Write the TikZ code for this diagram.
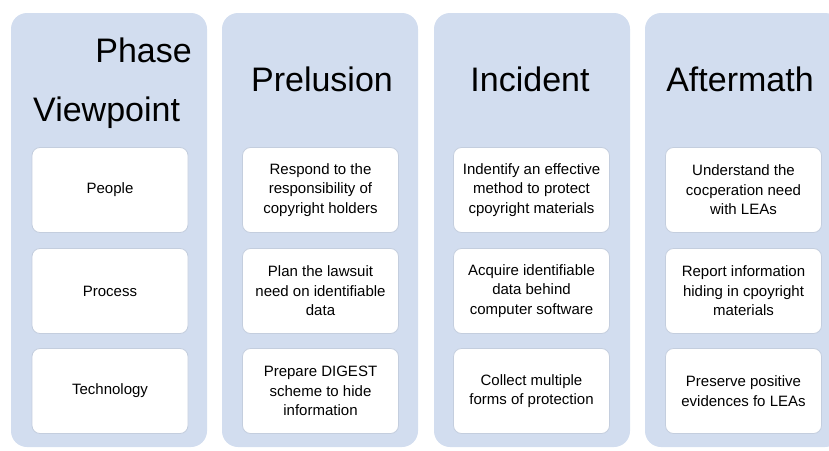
\documentclass[tikz,border=0pt]{standalone}
\usepackage{fontspec}
\setmainfont{Liberation Sans}
\usetikzlibrary{positioning}
\definecolor{lane}{RGB}{210,221,239}
\definecolor{cellline}{RGB}{196,206,222}
\tikzset{
	lanebox/.style={fill=lane, draw=none, rounded corners=16pt},
	cell/.style={draw=cellline, line width=0.8pt, fill=white, rounded corners=8pt, minimum width=156pt, minimum height=85pt, align=center, font=\fontsize{15}{19.5}\selectfont, inner sep=2pt},
	head/.style={font=\fontsize{34}{40}\selectfont, inner sep=0pt}
}

\begin{document}
\begin{tikzpicture}[x=1pt, y=-1pt]
		%%%%% START %%%%%
		
		\useasboundingbox (0, 0) rectangle (829, 450);
		\clip (0, 0) rectangle (829, 450);
		
		\draw[lanebox] (11, 13) rectangle (207, 447);
		\draw[lanebox] (222, 13) rectangle (418, 447);
		\draw[lanebox] (434, 13) rectangle (630, 447);
		\draw[lanebox] (645, 13) rectangle (841, 447);
		
		\node[head, anchor=base east] (phase) at (192, 62) {Phase};
		\node[head, anchor=base west] (view) at (33, 121) {Viewpoint};
		\node[head, anchor=base] (pre) at (322, 91) {Prelusion};
		\node[head, anchor=base] (inc) at (530, 91) {Incident};
		\node[head, anchor=base] (aft) at (740, 91) {Aftermath};
		
		\node[cell] (peo) at (110, 190) {People};
		\node[cell] (proc) at (110, 291) {Process};
		\node[cell] (tech) at (110, 391) {Technology};
		
		\node[cell] (prepeo) at (320.5, 190) {Respond to the\\responsibility of\\copyright holders};
		\node[cell] (preproc) at (320.5, 291) {Plan the lawsuit\\need on identifiable\\data};
		\node[cell] (pretech) at (320.5, 391) {Prepare DIGEST\\scheme to hide\\information};
		
		\node[cell] (incpeo) at (531.5, 190) {Indentify an effective\\method to protect\\cpoyright materials};
		\node[cell] (incproc) at (531.5, 291) {Acquire identifiable\\data behind\\computer software};
		\node[cell] (inctech) at (531.5, 391) {Collect multiple\\forms of protection};
		
		\node[cell] (aftpeo) at (743.5, 190) {Understand the\\cocperation need\\with LEAs};
		\node[cell] (aftproc) at (743.5, 291) {Report information\\hiding in cpoyright\\materials};
		\node[cell] (afttech) at (743.5, 391) {Preserve positive\\evidences fo LEAs};
		
		%%%%% END %%%%%
	\end{tikzpicture}
\end{document}
